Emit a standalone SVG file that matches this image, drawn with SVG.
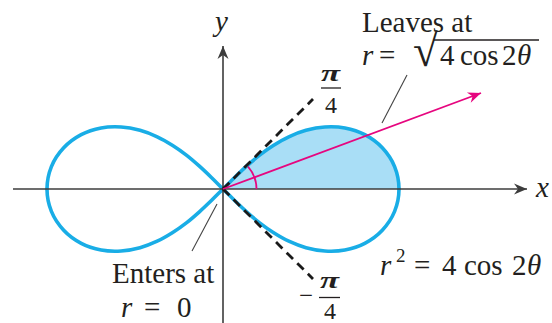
<svg xmlns="http://www.w3.org/2000/svg" xmlns:xlink="http://www.w3.org/1999/xlink" width="552" height="323" viewBox="0 0 552 323">
<style>
.axis{stroke:#3c3c3c;stroke-width:1.6;fill:none}
.curve{fill:none;stroke:#19ADE6;stroke-width:3.6;stroke-linecap:round;stroke-linejoin:round}
.shade{fill:#A9DEF6;stroke:none}
.dash{stroke:#1a1a1a;stroke-width:2.8;stroke-dasharray:9 6;fill:none}
.ray{stroke:#E6067F;stroke-width:1.8;fill:none}
.lead{stroke:#444;stroke-width:1.1;fill:none}
.fr{stroke:#231f20;stroke-width:1.3}
.lbl text{fill:#231f20;font-size:29px}
.i{font-style:italic}
.sm{font-size:24px !important}
</style>
<defs>
<path id="q" d="M0,0 C3.87,-3.83 7.67,-7.70 11.6,-11.5 C15.53,-15.3 19.48,-19.12 23.6,-22.8 C27.72,-26.48 31.85,-30.15 36.3,-33.6 C40.75,-37.05 45.38,-40.4 50.3,-43.5 C55.22,-46.6 60.35,-49.67 65.8,-52.2 C71.25,-54.73 76.98,-57.07 83,-58.7 C89.02,-60.33 95.42,-61.62 101.9,-62 C108.38,-62.38 115.25,-62.28 121.9,-61 C128.55,-59.72 135.57,-57.6 141.8,-54.3 C148.03,-51 154.33,-46.52 159.3,-41.2 C164.27,-35.88 168.82,-29.27 171.6,-22.4 C174.38,-15.53 176,-7.47 176,0"/>
<marker id="ah" markerUnits="userSpaceOnUse" markerWidth="16" markerHeight="14" viewBox="-14 -7 16 14" refX="0" refY="0" orient="auto"><path d="M0,0 L-13,-5.5 L-9,0 L-13,5.5 Z" fill="#3c3c3c"/></marker>
<marker id="ap" markerUnits="userSpaceOnUse" markerWidth="16" markerHeight="14" viewBox="-14 -7 16 14" refX="0" refY="0" orient="auto"><path d="M0,0 L-13,-5.5 L-9,0 L-13,5.5 Z" fill="#E6067F"/></marker>
</defs>

<g id="lemniscate" transform="translate(223,189)">
<use xlink:href="#q" class="shade"/>
<use xlink:href="#q" class="curve"/>
<use xlink:href="#q" class="curve" transform="scale(1,-1)"/>
<use xlink:href="#q" class="curve" transform="scale(-1,1)"/>
<use xlink:href="#q" class="curve" transform="scale(-1,-1)"/>
</g>

<g id="axes">
<line class="axis" x1="13" y1="189" x2="527" y2="189" marker-end="url(#ah)"/>
<line class="axis" x1="223" y1="323" x2="223" y2="46" marker-end="url(#ah)"/>
</g>

<g id="connectors">
<line class="dash" x1="223" y1="189" x2="313" y2="99"/>
<line class="dash" x1="223" y1="189" x2="313" y2="279"/>
<line class="ray" x1="223" y1="189" x2="481" y2="93" marker-end="url(#ap)"/>
<path class="ray" d="M256.5,189 A33.5,33.5 0 0 0 248,166.7"/>
<line class="lead" x1="407" y1="75" x2="382" y2="123"/>
<line class="lead" x1="217" y1="204" x2="192" y2="251"/>
</g>

<g class="lbl" font-family="Liberation Serif, DejaVu Serif, Times New Roman, serif">
<g id="label-y"><text class="i" x="215" y="31">y</text></g>
<g id="label-x"><text class="i" x="536" y="197">x</text></g>

<g id="label-leaves">
<text x="362" y="32">Leaves at</text>
<text class="i" x="362" y="65">r</text>
<text x="379" y="65">=</text>
<text x="413" y="66" style="font-size:45px">√</text>
<line class="fr" x1="434" y1="40" x2="539" y2="40"/>
<text x="440" y="65">4</text>
<text x="460" y="65">cos</text>
<text x="502" y="65">2</text>
<text class="i" x="517" y="65">θ</text>
</g>

<g id="label-pi4">
<text class="i sm" x="321" y="81" textLength="19" lengthAdjust="spacingAndGlyphs" font-weight="bold">π</text>
<line class="fr" x1="321" y1="88" x2="341" y2="88"/>
<text class="sm" x="331" y="113" text-anchor="middle">4</text>
</g>

<g id="label-mpi4">
<text x="299" y="305" textLength="14" lengthAdjust="spacingAndGlyphs">−</text>
<text class="i sm" x="320" y="288" textLength="19" lengthAdjust="spacingAndGlyphs" font-weight="bold">π</text>
<line class="fr" x1="319" y1="297.5" x2="340" y2="297.5"/>
<text class="sm" x="330" y="319" text-anchor="middle">4</text>
</g>

<g id="label-eq">
<text class="i" x="380" y="275">r</text>
<text x="396" y="262" style="font-size:19px">2</text>
<text x="414" y="275">=</text>
<text x="442" y="275">4</text>
<text x="464" y="275">cos</text>
<text x="512" y="275">2</text>
<text class="i" x="527" y="275">θ</text>
</g>

<g id="label-enters">
<text x="112" y="283">Enters at</text>
<text class="i" x="121" y="317">r</text>
<text x="144" y="317">=</text>
<text x="177" y="317">0</text>
</g>
</g>
</svg>
